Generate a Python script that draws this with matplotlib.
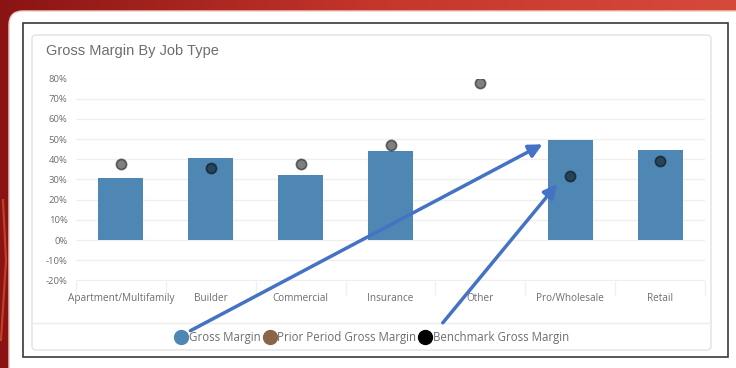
import numpy as np
import matplotlib
matplotlib.use("Agg")
import matplotlib.pyplot as plt
from matplotlib.patches import FancyBboxPatch, Rectangle
from matplotlib.lines import Line2D
from matplotlib.colors import LinearSegmentedColormap

# data (percent)
job_types = ["Apartment/Multifamily", "Builder", "Commercial", "Insurance",
             "Other", "Pro/Wholesale", "Retail"]
gross_margin = [30.6, 40.5, 32.4, 44.3, np.nan, 49.5, 44.8]
benchmark_margin = [37.7, 35.5, 37.7, 47.2, 78.0, 31.6, 39.0]
y_ticks = [-20, -10, 0, 10, 20, 30, 40, 50, 60, 70, 80]

bar_color = "#4e87b3"
text_gray = "#6e6e6e"

plt.rcParams["font.family"] = ["Open Sans", "DejaVu Sans"]

fig = plt.figure(figsize=(7.36, 3.68), dpi=100)

# background: red screen, white panel, framed card (pixel coords)
bg = fig.add_axes([0, 0, 1, 1], zorder=-2)
bg.set_xlim(0, 736)
bg.set_ylim(368, 0)
bg.axis("off")
red = LinearSegmentedColormap.from_list("red", ["#8a1414", "#c4352b", "#d64a3c"])
grad = np.linspace(0, 1, 256).reshape(1, -1)
bg.imshow(grad, cmap=red, extent=[0, 736, 368, 0], aspect="auto")
bg.plot([1, 6, 3], [340, 260, 200], color="#e8603a", lw=1.5, alpha=0.6)
bg.add_patch(FancyBboxPatch((9, 11), 760, 400, boxstyle="round,pad=0,rounding_size=14",
                            fc="white", ec="#f3c9c0", lw=1))
bg.add_patch(Rectangle((23, 23), 705, 334, fc="white", ec="#3a3a3a", lw=1.2))
bg.add_patch(FancyBboxPatch((32, 35), 679, 315, boxstyle="round,pad=0,rounding_size=4",
                            fc="white", ec="#e2e2e2", lw=1))
bg.plot([33, 710], [323, 323], color="#ececec", lw=1)
bg.text(46, 51, "Gross Margin By Job Type", fontsize=10.5, color=text_gray,
        family=["Liberation Sans", "DejaVu Sans"], va="center", ha="left")

# chart
ax = fig.add_axes([76 / 736, 1 - 280.5 / 368, 629 / 736, 202 / 368])
x = np.arange(len(job_types))
ax.bar(x, gross_margin, width=0.5, color=bar_color, zorder=2)
ax.scatter(x, benchmark_margin, s=55, color="black", alpha=0.5,
           edgecolor="black", linewidth=1.2, zorder=3)

ax.set_xlim(-0.5, len(job_types) - 0.5)
ax.set_ylim(-20, 80)
ax.set_yticks(y_ticks)
ax.set_yticklabels([f"{t}%" for t in y_ticks], fontsize=6.8, color=text_gray)
ax.set_xticks(x)
ax.set_xticklabels(job_types, fontsize=7.2, color=text_gray)
ax.set_xticks(np.arange(-0.5, len(job_types)), minor=True)
ax.tick_params(axis="x", which="major", length=0, pad=9)
ax.tick_params(axis="x", which="minor", length=10, color="#f0f0f0", width=1)
ax.tick_params(axis="y", length=0, pad=6)
ax.grid(axis="y", color="#eeeeee", lw=0.9, zorder=0)
for s in ax.spines.values():
    s.set_visible(False)
ax.set_facecolor("none")

handles = [
    Line2D([], [], marker="o", ls="", ms=10, color=bar_color, label="Gross Margin"),
    Line2D([], [], marker="o", ls="", ms=10, color="#8b6548", label="Prior Period Gross Margin"),
    Line2D([], [], marker="o", ls="", ms=10, color="black", label="Benchmark Gross Margin"),
]
leg = fig.legend(handles=handles, loc="center", bbox_to_anchor=(372 / 736, 1 - 338 / 368),
                 ncol=3, frameon=False, fontsize=8.3, handletextpad=0.1,
                 columnspacing=0.25, handlelength=1.1, labelcolor=text_gray)

# annotation arrows drawn over the screenshot
ov = fig.add_axes([0, 0, 1, 1], zorder=5)
ov.set_xlim(0, 736)
ov.set_ylim(368, 0)
ov.axis("off")
arrow_kw = dict(arrowstyle="-|>,head_length=0.8,head_width=0.4", color="#4472c4", lw=2.5)
ov.annotate("", xy=(545, 143), xytext=(188, 332), arrowprops=arrow_kw)
ov.annotate("", xy=(559, 182), xytext=(441, 325), arrowprops=arrow_kw)

plt.savefig("out.png", dpi=100)
